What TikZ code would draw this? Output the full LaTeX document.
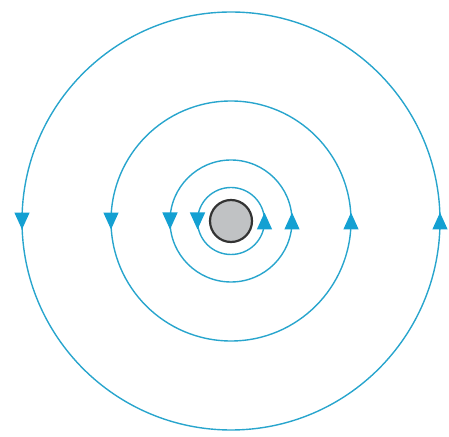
\documentclass[tikz,border=0pt]{standalone}
\usetikzlibrary{decorations.markings,arrows.meta}
\definecolor{fieldline}{RGB}{40,165,205}
\definecolor{fieldarrow}{RGB}{20,160,210}
\definecolor{wiregray}{RGB}{192,194,196}
\begin{document}
\begin{tikzpicture}[x=1pt,y=1pt,
  fieldcircle/.style={draw=fieldline,line width=1.4pt,
    postaction={decorate,decoration={markings,
      mark=at position 0.25 with {\arrow[xshift=8.5pt,fieldarrow]{Triangle[length=17pt,width=15pt]}},
      mark=at position 0.75 with {\arrow[xshift=8.5pt,fieldarrow]{Triangle[length=17pt,width=15pt]}}}}},
  wirestyle/.style={circle,draw=black!80,line width=2.2pt,fill=wiregray,minimum size=42pt,inner sep=0pt}]
\useasboundingbox (0,0) rectangle (449,436);
\coordinate (c) at (231,215);
\foreach \r in {33.5,61,120,209}{
  \draw[fieldcircle] ([shift={(-90:\r)}]c) arc[start angle=-90,end angle=270,radius=\r];
}
\node[wirestyle] (wire) at (c) {};
\end{tikzpicture}
\end{document}
